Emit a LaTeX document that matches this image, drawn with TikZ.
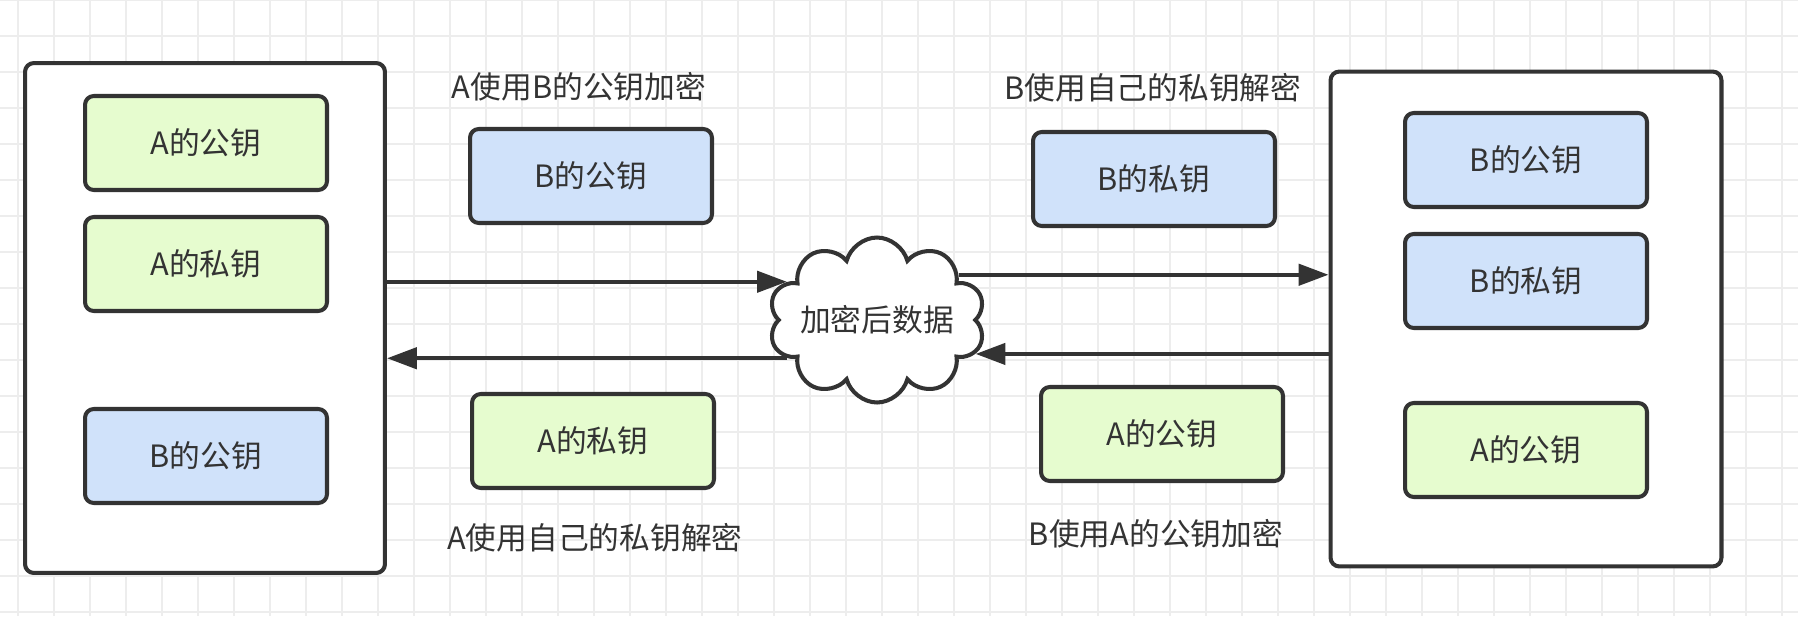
\documentclass[tikz,border=0pt]{standalone}
\usepackage{fontspec}
\setmainfont{Noto Sans CJK SC}
\usepackage{tikz}
\usetikzlibrary{arrows.meta,shapes.symbols}
\definecolor{keygreen}{HTML}{E6FCCF}
\definecolor{keyblue}{HTML}{D0E2FA}
\definecolor{edgegray}{HTML}{333333}
\colorlet{gridgray}{black!7}

\begin{document}
\begin{tikzpicture}[x=0.02cm,y=-0.02cm,
        font=\fontsize{17.5}{21}\selectfont, text=edgegray,
        host/.style={draw=edgegray, line width=2.3pt, rounded corners=5pt, fill=white},
        key/.style={draw=edgegray, line width=2.3pt, rounded corners=5pt,
            minimum width=4.84cm, minimum height=1.88cm},
        keyA/.style={key, fill=keygreen},
        keyB/.style={key, fill=keyblue},
        flow/.style={draw=edgegray, line width=2.4pt, -{Triangle[length=17pt,width=12pt]}}]
        \useasboundingbox (0,0) rectangle (1798,616);
        \fill[white] (0,0) rectangle (1798,616);
        % grid
        \foreach \x in {18,54,...,1798}{
            \draw[gridgray, line width=1.1pt] (\x,0) -- (\x,616);
        }
        \foreach \y in {0,36,...,616}{
            \draw[gridgray, line width=1.1pt] (0,\y) -- (1798,\y);
        }
        % the two hosts
        \node[host, minimum width=7.2cm, minimum height=10.2cm] (hostA) at (205,318) {};
        \node[host, minimum width=7.82cm, minimum height=9.9cm] (hostB) at (1526,319) {};
        \node[keyA] (aPubA) at (206,143) {A的公钥};
        \node[keyA] (aPrivA) at (206,264) {A的私钥};
        \node[keyB] (aPubB) at (206,456) {B的公钥};
        \node[keyB] (bPubB) at (1526,160) {B的公钥};
        \node[keyB] (bPrivB) at (1526,281) {B的私钥};
        \node[keyA] (bPubA) at (1526,450) {A的公钥};
        % keys in transit
        \node[keyB] (sendPubB) at (591,176) {B的公钥};
        \node[keyA] (sendPrivA) at (593,441) {A的私钥};
        \node[keyB] (sendPrivB) at (1154,179) {B的私钥};
        \node[keyA] (sendPubA) at (1162,434) {A的公钥};
        \node (encA) at (579,87) {A使用B的公钥加密};
        \node (decB) at (1153,88) {B使用自己的私钥解密};
        \node (decA) at (595,538) {A使用自己的私钥解密};
        \node (encB) at (1156,534) {B使用A的公钥加密};
        % cloud
        \node[cloud, cloud puffs=10, cloud ignores aspect, inner sep=0pt, draw=edgegray,
            line width=2.3pt, fill=white, minimum width=3.7cm, minimum height=3.3cm]
            (data) at (877,320) {加密后数据};
        \draw[flow] (hostA.east |- data.157) -- (data.157);
        \draw[flow] (data.203) -- (hostA.east |- data.203);
        \draw[flow] (data.29) -- (hostB.west |- data.29);
        \draw[flow] (hostB.west |- data.341) -- (data.341);
    \end{tikzpicture}
\end{document}
